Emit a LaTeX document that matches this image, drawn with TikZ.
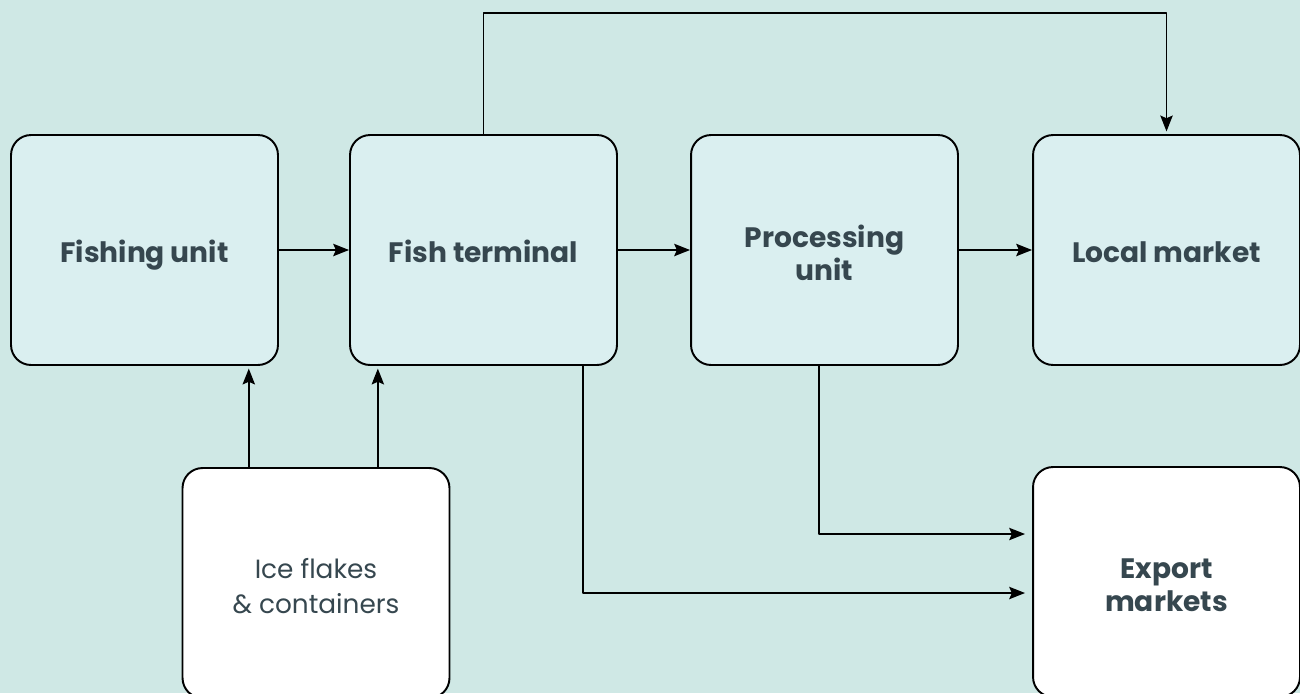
\documentclass[tikz,border=0pt]{standalone}
\usepackage{fontspec}
\setmainfont{Poppins}
\usetikzlibrary{arrows.meta,calc}
\definecolor{bgteal}{HTML}{CFE8E5}
\definecolor{boxteal}{HTML}{DAEFF0}
\definecolor{inkslate}{HTML}{36474F}
\newcommand\unitstrut{\rule[-4.5pt]{0pt}{23.2pt}}
\tikzset{
	unit/.style={draw=black,line width=1.1pt,rounded corners=0.4cm,fill=boxteal,
		minimum width=5.34cm,minimum height=4.6cm,align=center,text=inkslate,
		font=\fontsize{16}{18.5}\selectfont\bfseries,
		execute at begin node=\unitstrut,execute at end node=\unitstrut},
	supply/.style={unit,fill=white},
	caption/.style={text=inkslate,align=center,inner sep=0pt,yshift=-1.7pt,
		font=\fontsize{16}{18.5}\selectfont\bfseries},
	flow/.style={-{Stealth[length=9pt,width=7pt,inset=1.5pt]},line width=1.1pt}
}
\begin{document}
\begin{tikzpicture}[line join=round,x=0.02cm,y=-0.02cm]
		\useasboundingbox (0,0) rectangle (1300,693);
		\fill[bgteal] (0,0) rectangle (1300,693);
		% chain of units
		\node[unit] (fish) at (144.5,250) {Fishing unit};
		\node[unit] (term) at (483.5,250) {Fish terminal};
		\node[unit,label={[caption]center:{Processing\\unit}}] (proc) at (824.5,250) {};
		\node[unit] (local) at (1166.5,250) {Local market};
		\node[supply,label={[caption,font=\fontsize{15}{19.5}\selectfont]center:{Ice flakes\\\& containers}}] (ice) at (316,583) {};
		\node[supply,label={[caption]center:{Export\\markets}}] (exp) at (1166.5,582) {};
		\coordinate (i1) at ($(ice.north west)!.25!(ice.north east)$);
		\coordinate (i2) at ($(ice.north west)!.73!(ice.north east)$);
		\coordinate (t1) at ($(term.south west)!.87!(term.south east)$);
		\coordinate (p1) at ($(proc.south west)!.48!(proc.south east)$);
		\draw[flow] (fish) -- (term);
		\draw[flow] (term) -- (proc);
		\draw[flow] (proc) -- (local);
		\draw[flow,shorten >=1.5pt] (term.north) -- ++(0,-121) -| (local.north);
		\draw[flow,shorten >=1.5pt] (i1) -- (i1 |- fish.south);
		\draw[flow,shorten >=1.5pt] (i2) -- (i2 |- term.south);
		\draw[flow,shorten >=4pt] (t1) |- ($(exp.west)+(0,11)$);
		\draw[flow,shorten >=4pt] (p1) |- ($(exp.west)+(0,-48)$);
	\end{tikzpicture}
\end{document}
